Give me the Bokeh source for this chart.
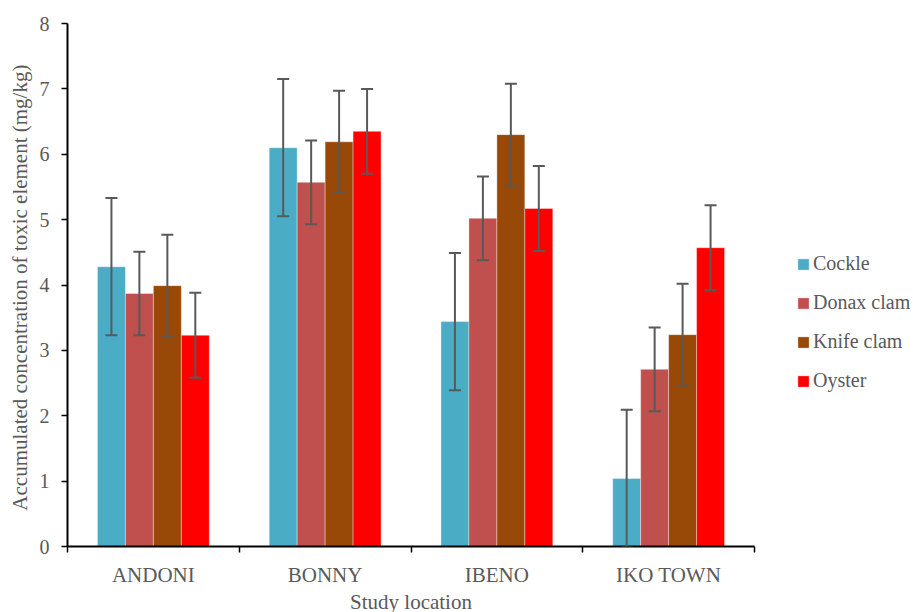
from bokeh.plotting import figure
from bokeh.models import (ColumnDataSource, FixedTicker, Whisker, Legend, LegendItem,
                          Range1d, TeeHead)
from bokeh.embed import file_html
from bokeh.resources import INLINE

locations = ["ANDONI", "BONNY", "IBENO", "IKO TOWN"]
series = ["Cockle", "Donax clam", "Knife clam", "Oyster"]
colors = ["#4BACC6", "#C0504D", "#984807", "#FF0000"]

cockle = [4.28, 6.10, 3.44, 1.04]
donax = [3.87, 5.57, 5.02, 2.71]
knife = [3.99, 6.19, 6.30, 3.24]
oyster = [3.23, 6.35, 5.17, 4.57]

cockle_err = [1.05, 1.05, 1.05, 1.05]
donax_err = [0.64, 0.64, 0.64, 0.64]
knife_err = [0.78, 0.78, 0.78, 0.78]
oyster_err = [0.65, 0.65, 0.65, 0.65]

y_ticks = [0, 1, 2, 3, 4, 5, 6, 7, 8]

values = [cockle, donax, knife, oyster]
errors = [cockle_err, donax_err, knife_err, oyster_err]

FONT = "Liberation Serif"
TXT = "#595959"

p = figure(frame_width=687, frame_height=523, output_backend="svg", toolbar_location=None,
           x_range=Range1d(0, len(locations)), y_range=Range1d(0, 8),
           min_border_left=67, min_border_right=0, min_border_top=23,
           min_border_bottom=64)
p.outline_line_color = None
p.grid.visible = False
p.background_fill_color = "white"

bar_w = 0.1628
items = []
for k, (name, vals, errs, col) in enumerate(zip(series, values, errors, colors)):
    xs = [i + 0.5 + (k - 1.5) * bar_w for i in range(len(locations))]
    src = ColumnDataSource(dict(x=xs, top=vals,
                                upper=[v + e for v, e in zip(vals, errs)],
                                lower=[v - e for v, e in zip(vals, errs)]))
    r = p.vbar(x="x", top="top", bottom=0, width=bar_w, source=src,
               fill_color=col, line_color="white", line_width=0.6, line_alpha=0.6)
    items.append(LegendItem(label=name, renderers=[r]))
    w = Whisker(base="x", upper="upper", lower="lower", source=src, level="annotation",
                line_color="#595959", line_width=2,
                upper_head=TeeHead(size=12, line_color="#595959", line_width=2),
                lower_head=TeeHead(size=12, line_color="#595959", line_width=2))
    p.add_layout(w)

# axes
xa = p.xaxis[0]
xa.ticker = FixedTicker(ticks=[i + 0.5 for i in range(len(locations))],
                        minor_ticks=list(range(len(locations) + 1)))
xa.major_label_overrides = {i + 0.5: loc for i, loc in enumerate(locations)}
xa.major_tick_line_color = None
xa.major_tick_in = 0
xa.major_tick_out = 6
xa.minor_tick_line_color = "black"
xa.minor_tick_line_width = 1.5
xa.minor_tick_in = 0
xa.minor_tick_out = 6
xa.axis_line_color = "black"
xa.axis_line_width = 2
xa.major_label_standoff = 10
xa.major_label_text_font = FONT
xa.major_label_text_font_size = "21px"
xa.major_label_text_color = TXT
xa.axis_label = "Study location"
xa.axis_label_text_font = FONT
xa.axis_label_text_font_size = "21px"
xa.axis_label_text_font_style = "normal"
xa.axis_label_text_color = TXT
xa.axis_label_standoff = 0

ya = p.yaxis[0]
ya.ticker = FixedTicker(ticks=y_ticks)
ya.minor_tick_line_color = None
ya.major_tick_in = 0
ya.major_tick_out = 6
ya.major_tick_line_width = 1.5
ya.major_tick_line_color = "black"
ya.axis_line_color = "black"
ya.axis_line_width = 2
ya.major_label_standoff = 12
ya.major_label_text_font = FONT
ya.major_label_text_font_size = "20px"
ya.major_label_text_color = TXT
ya.axis_label = "Accumulated concentration of toxic element  (mg/kg)"
ya.axis_label_text_font = FONT
ya.axis_label_text_font_size = "21px"
ya.axis_label_text_font_style = "normal"
ya.axis_label_text_color = TXT
ya.axis_label_standoff = 5

legend = Legend(items=items, location=(42, 154), orientation="vertical",
                glyph_width=14, glyph_height=14, label_height=20,
                spacing=16, padding=0, margin=0, label_standoff=3,
                label_text_font=FONT, label_text_font_size="20px",
                label_text_color=TXT, border_line_color=None,
                background_fill_alpha=0)
p.add_layout(legend, "right")

open("out.html", "w").write(file_html(p, INLINE))
